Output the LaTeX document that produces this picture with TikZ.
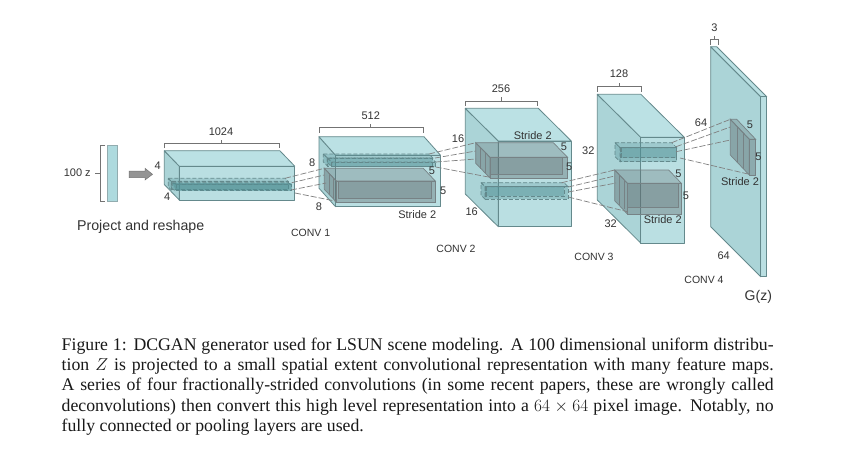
\documentclass[tikz,border=0pt]{standalone}
\usepackage{fontspec}
\setmainfont{Liberation Sans}
\newfontfamily\capfont{Liberation Serif}
\usetikzlibrary{arrows.meta}
\definecolor{edgeC}{HTML}{64898C}
\definecolor{leftC}{HTML}{ABD4D7}
\definecolor{topC}{HTML}{BBE1E4}
\definecolor{frontC}{HTML}{AEDADE}
\definecolor{grayC}{HTML}{5F6C6F}
\definecolor{tealC}{HTML}{4F8F94}
\definecolor{textC}{HTML}{333333}
\tikzset{
  outer left/.style={fill=leftC,draw=edgeC,line width=.8pt,line join=round},
  outer top/.style={fill=topC,draw=edgeC,line width=.8pt,line join=round},
  outer front/.style={fill=frontC,fill opacity=.85,draw=edgeC,line width=.8pt,line join=round},
  gray left/.style={fill=grayC,fill opacity=.45,draw=grayC!85,line width=.7pt},
  gray top/.style={fill=grayC,fill opacity=.3,draw=grayC!85,line width=.7pt},
  gray front/.style={fill=grayC,fill opacity=.4,draw=grayC!85,line width=.7pt},
  teal left/.style={fill=tealC,fill opacity=.35,draw=edgeC,dashed,dash pattern=on 4pt off 2pt,line width=.7pt},
  teal top/.style={fill=tealC,fill opacity=.25,draw=edgeC,dashed,dash pattern=on 4pt off 2pt,line width=.7pt},
  teal front/.style={fill=tealC,fill opacity=.35,draw=edgeC,dashed,dash pattern=on 4pt off 2pt,line width=.7pt},
  conn/.style={draw=black!50,dashed,dash pattern=on 6pt off 2pt,line width=.7pt},
  brace/.style={draw=black!55,line width=.7pt},
  lab/.style={font=\fontsize{11}{12}\selectfont,text=textC,inner sep=0pt},
  conv/.style={font=\fontsize{10.5}{12}\selectfont,text=textC,inner sep=0pt},
  captext/.style={font=\capfont\fontsize{17.75}{20.3}\selectfont,text=black!90,inner sep=0pt,anchor=north west,text width=712pt,align=justify}
}
% x y w h dx dy kind
\newcommand\prismbox[7]{%
  \path[#7 left] (#1,#2) -- ++(#5,#6) -- ++(0,#4) -- ++(-#5,-#6) -- cycle;
  \path[#7 top] (#1,#2) -- ++(#3,0) -- ++(#5,#6) -- ++(-#3,0) -- cycle;
  \path[#7 front] (#1,#2) ++(#5,#6) rectangle ++(#3,#4);
}
\begin{document}
\begin{tikzpicture}[x=1pt,y=-1pt]
\useasboundingbox[fill=white] (0,0) rectangle (851,451);

% input bar
\node[fill=frontC,draw=edgeC!70,line width=.6pt,minimum width=10pt,minimum height=55.3pt,inner sep=0pt] (bar) at (112.3,173.3) {};
\draw[brace] (105,145.7) -- (100,145.7) -- (100,201) -- (105,201);
\draw[brace] (100,173.3) -- (95,173.3);
\node[lab] (z100) at (77.3,172.5) {100 z};
\path[fill=black!42,draw=black!55,line width=.5pt] (129,171) -- (145,171) -- (145,168.3) -- (152.5,174.3) -- (145,180) -- (145,177.5) -- (129,177.5) -- cycle;
\node[inner sep=0pt,font=\fontsize{14.2}{16}\selectfont,text=textC] (proj) at (140.7,227) {Project and reshape};

% box 1
\prismbox{164.3}{150.7}{115.5}{33.8}{15}{15.5}{outer}
\prismbox{168.3}{178.3}{117}{8.5}{3}{3}{teal}
\prismbox{172.3}{182.7}{115.5}{6.5}{3.8}{1.5}{teal}
\fill[tealC,opacity=.45] (172.3,183) -- (291.5,183) -- (291.5,190.5) -- (176,190.5) -- cycle;
\draw[brace] (164.3,148) -- (164.3,143.5) -- (279.3,143.5) -- (279.3,148);
\draw[brace] (221.7,143.5) -- (221.7,139.5);
\node[lab] (w1024) at (221,131.7) {1024};
\node[lab] (a4) at (157.7,165.7) {4};
\node[lab] (b4) at (167.3,196.7) {4};

% box 2
\prismbox{319}{136.7}{105}{51.5}{16.5}{18.5}{outer}
\prismbox{323.3}{154}{105.5}{8}{4}{4}{teal}
\prismbox{327.3}{158}{104}{4.5}{4.4}{4}{teal}
\prismbox{324.3}{168.3}{99}{21}{12}{12.7}{gray}
\path[fill=grayC,fill opacity=.25,draw=grayC!85,line width=.6pt] (338.3,181) rectangle (431.7,198.3);
\draw[draw=grayC!85,line width=.6pt] (329.3,173.5) -- (329.3,194.5) (333.5,177.5) -- (333.5,198.5);
\draw[brace] (319,132.7) -- (319,127.7) -- (423.3,127.7) -- (423.3,132.7);
\draw[brace] (370.7,127.7) -- (370.7,124);
\node[lab] (w512) at (370.7,115.7) {512};
\node[lab] (a8) at (312.3,162.7) {8};
\node[lab] (b8) at (319,206.3) {8};
\node[lab] (c5) at (432,170.7) {5};
\node[lab] (d5) at (443.3,191) {5};
\node[lab] (s1) at (417.3,214.3) {Stride 2};
\node[conv] (conv1) at (310.7,233) {CONV 1};

% box 3
\prismbox{465.3}{108.3}{73}{85.7}{33}{32.7}{outer}
\prismbox{475.7}{142.7}{77.6}{20.6}{14.3}{14.6}{gray}
\path[fill=grayC,fill opacity=.25,draw=grayC!85,line width=.6pt] (490.7,157.3) rectangle (562.7,174);
\draw[draw=grayC!85,line width=.6pt] (480.5,147.5) -- (480.5,168.5) (485,152.5) -- (485,173);
\prismbox{481}{182.7}{83}{12.5}{4}{4}{teal}
\prismbox{485}{186.7}{78}{9.5}{1}{0}{teal}
\draw[brace] (465,105.7) -- (465,101) -- (537.7,101) -- (537.7,105.7);
\draw[brace] (501,101) -- (501,97.3);
\node[lab] (w256) at (501,89) {256};
\node[lab] (a16) at (458,139) {16};
\node[lab] (b16) at (471.7,212) {16};
\node[lab] (e5) at (564,146.7) {5};
\node[lab] (f5) at (569.3,166.3) {5};
\node[lab] (s2) at (532.7,135.3) {Stride 2};
\node[conv] (conv2) at (456,249) {CONV 2};

% box 4
\prismbox{597.3}{94.3}{43.6}{105.7}{43.4}{43}{outer}
\prismbox{615}{142.7}{56.7}{14}{5}{5}{teal}
\prismbox{620}{147.7}{55}{10}{1}{0}{teal}
\prismbox{614.7}{170}{54}{30.7}{12.7}{13.3}{gray}
\path[fill=grayC,fill opacity=.25,draw=grayC!85,line width=.6pt] (627.3,183.3) rectangle (678.3,207.7);
\draw[draw=grayC!85,line width=.6pt] (619.5,175) -- (619.5,205) (624,180) -- (624,209);
\draw[brace] (597,91.7) -- (597,86.7) -- (641.7,86.7) -- (641.7,91.7);
\draw[brace] (619,86.7) -- (619,82.7);
\node[lab] (w128) at (619,74) {128};
\node[lab] (a32) at (588.3,150.7) {32};
\node[lab] (b32) at (610.7,223.7) {32};
\node[lab] (g5) at (678.3,173.3) {5};
\node[lab] (h5) at (686,195.7) {5};
\node[lab] (s3) at (662.7,219.3) {Stride 2};
\node[conv] (conv3) at (594,257) {CONV 3};

% box 5
\prismbox{710.7}{46.7}{6}{180}{50}{50}{outer}
\prismbox{730.3}{119.3}{6.4}{35.7}{19}{20}{gray}
\draw[draw=grayC!85,line width=.6pt] (737.3,127) -- (737.3,162) (743.5,133.5) -- (743.5,168.5);
\draw[brace] (710.7,45) -- (710.7,39.5) -- (718,39.5) -- (718,45);
\draw[brace] (714.3,39.5) -- (714.3,35.7);
\node[lab] (w3) at (714.3,27.7) {3};
\node[lab] (a64) at (701,122.3) {64};
\node[lab] (b64) at (723.7,255.7) {64};
\node[lab] (i5) at (750,125) {5};
\node[lab] (j5) at (758.3,156.7) {5};
\node[lab] (s4) at (740,182) {Stride 2};
\node[conv] (conv4) at (704,280) {CONV 4};
\node[inner sep=0pt,font=\fontsize{14}{16}\selectfont,text=textC] (gz) at (758.3,296.7) {G(z)};

% connector ends
\coordinate (p1a) at (285,178.3); \coordinate (p1b) at (291.7,182.7);
\coordinate (p1c) at (291,190); \coordinate (p1d) at (295,193);
\coordinate (q2a) at (324.3,168.3); \coordinate (q2b) at (324.3,175);
\coordinate (q2c) at (326,183); \coordinate (q2d) at (335,201);
\coordinate (p2a) at (429,154); \coordinate (p2b) at (435,158);
\coordinate (p2c) at (435.7,162); \coordinate (p2d) at (435.7,167);
\coordinate (q3a) at (475.7,142.7); \coordinate (q3b) at (475.7,151);
\coordinate (q3c) at (476,159); \coordinate (q3d) at (490,177.3);
\coordinate (p3a) at (561.7,182.7); \coordinate (p3b) at (568.3,187);
\coordinate (p3c) at (568.3,192); \coordinate (p3d) at (568.3,197);
\coordinate (q4a) at (614.7,170); \coordinate (q4b) at (614.7,176);
\coordinate (q4c) at (616,183); \coordinate (q4d) at (627.3,211.7);
\coordinate (p4a) at (671.7,142.7); \coordinate (p4b) at (676,146.7);
\coordinate (p4c) at (676,151.7); \coordinate (p4d) at (680,158);
\coordinate (q5a) at (730.3,119.3); \coordinate (q5b) at (730.3,127);
\coordinate (q5c) at (730.3,140); \coordinate (q5d) at (749.3,174.3);
\foreach \f/\t in {p1a/q2a,p1b/q2b,p1c/q2c,p1d/q2d,p2a/q3a,p2b/q3b,p2c/q3c,p2d/q3d,p3a/q4a,p3b/q4b,p3c/q4c,p3d/q4d,p4a/q5a,p4b/q5b,p4c/q5c,p4d/q5d}
  \draw[conn] (\f) -- (\t);

% caption
\node[captext] (caption) at (61.5,337.5) {Figure 1: DCGAN generator used for LSUN scene modeling. A 100 dimensional uniform distribu-\linebreak
tion $Z$ is projected to a small spatial extent convolutional representation with many feature maps.\linebreak
A series of four fractionally-strided convolutions (in some recent papers, these are wrongly called\linebreak
deconvolutions) then convert this high level representation into a $64\times 64$ pixel image. Notably, no\linebreak
fully connected or pooling layers are used.};
\end{tikzpicture}
\end{document}
